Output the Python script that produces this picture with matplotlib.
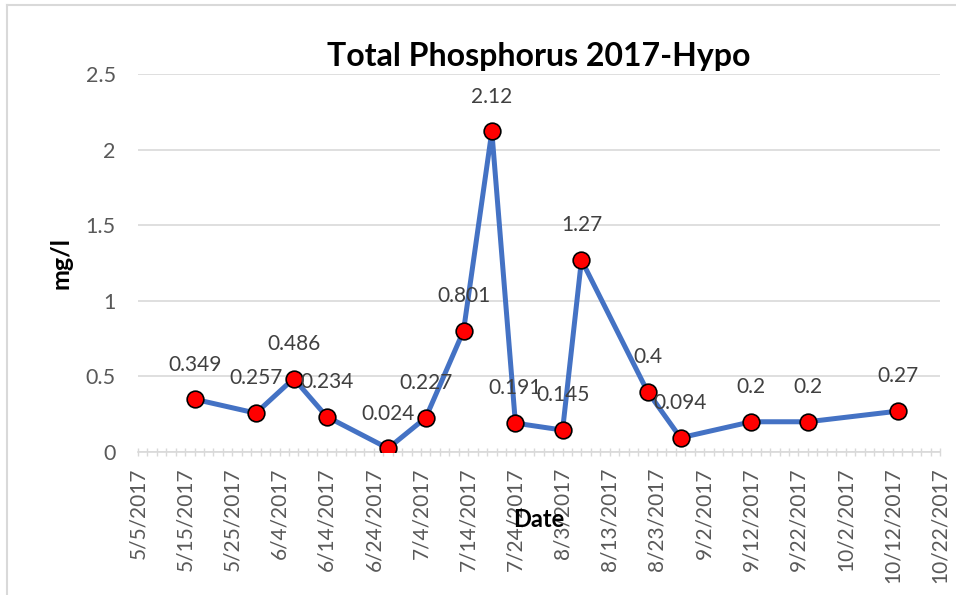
import datetime as dt

import matplotlib
matplotlib.use("Agg")
import matplotlib.pyplot as plt
from matplotlib.lines import Line2D

# sample dates and total phosphorus (mg/l), hypolimnion
dates = ["2017-05-17", "2017-05-30", "2017-06-07", "2017-06-14", "2017-06-27",
         "2017-07-05", "2017-07-13", "2017-07-19", "2017-07-24", "2017-08-03",
         "2017-08-07", "2017-08-21", "2017-08-28", "2017-09-12", "2017-09-24",
         "2017-10-13"]
tp = [0.349, 0.257, 0.486, 0.234, 0.024, 0.227, 0.801, 2.12, 0.191, 0.145,
      1.27, 0.4, 0.094, 0.2, 0.2, 0.27]
labels = ["0.349", "0.257", "0.486", "0.234", "0.024", "0.227", "0.801", "2.12",
          "0.191", "0.145", "1.27", "0.4", "0.094", "0.2", "0.2", "0.27"]
y_ticks = [0, 0.5, 1, 1.5, 2, 2.5]
y_ticklabels = ["0", "0.5", "1", "1.5", "2", "2.5"]

x_start = dt.date(2017, 5, 5)
x_end = dt.date(2017, 10, 22)


def main():
    plt.rcParams['font.family'] = ['Lato', 'DejaVu Sans']
    grid_col = '#D9D9D9'
    txt_col = '#595959'

    x = [dt.datetime.strptime(d, "%Y-%m-%d") for d in dates]

    fig = plt.figure(figsize=(9.56, 5.95), dpi=100)
    ax = fig.add_axes([138 / 956, 1 - 452 / 595, 802 / 956, 378 / 595])

    ax.plot(x, tp, color='#4472C4', lw=3.6, marker='o', ms=12,
            mfc='#FF0000', mec='black', mew=1.2, zorder=3)

    for xi, yi, lab in zip(x, tp, labels):
        ax.annotate(lab, (xi, yi), xytext=(0, 25), textcoords='offset points',
                    ha='center', va='center', fontsize=15, color='#404040')

    ax.set_xlim(x_start, x_end)
    ax.set_ylim(0, 2.5)
    ax.set_yticks(y_ticks)
    ax.set_yticklabels(y_ticklabels)

    # major every 10 days, minor every 2 days (Excel date axis)
    ticks = [x_start + dt.timedelta(days=10 * i) for i in range(18)]
    ax.set_xticks(ticks)
    ax.set_xticklabels([f"{t.month}/{t.day}/{t.year}" for t in ticks], rotation=90)
    ax.set_xticks([x_start + dt.timedelta(days=2 * i) for i in range(86)], minor=True)

    ax.grid(axis='y', color=grid_col, lw=1.2)
    for s in ['top', 'right', 'left']:
        ax.spines[s].set_visible(False)
    ax.spines['bottom'].set_color(grid_col)
    ax.spines['bottom'].set_linewidth(1.2)

    ax.tick_params(axis='y', length=0, pad=16, labelsize=15.5, labelcolor=txt_col)
    ax.tick_params(axis='x', which='both', direction='inout', length=6,
                   color=grid_col, width=1)
    ax.tick_params(axis='x', which='major', pad=8, labelsize=15, labelcolor=txt_col)

    ax.set_title("Total Phosphorus 2017-Hypo", fontsize=23, fontweight='bold',
                 color='black', pad=6)
    ax.set_ylabel("mg/l", fontsize=18, fontweight='bold', color='black')
    ax.yaxis.set_label_coords(-66 / 802, 0.5)
    ax.set_xlabel("Date", fontsize=17, fontweight='bold', color='black')
    ax.xaxis.set_label_coords(0.5, -56 / 378)

    # chart frame (only left and top edges show in the crop)
    fig.add_artist(Line2D([7 / 956, 7 / 956], [0, 1 - 5 / 595], color=grid_col,
                          lw=1.5, transform=fig.transFigure))
    fig.add_artist(Line2D([7 / 956, 1], [1 - 5 / 595, 1 - 5 / 595], color=grid_col,
                          lw=1.5, transform=fig.transFigure))

    fig.savefig("out.png", dpi=100)


if __name__ == "__main__":
    main()
